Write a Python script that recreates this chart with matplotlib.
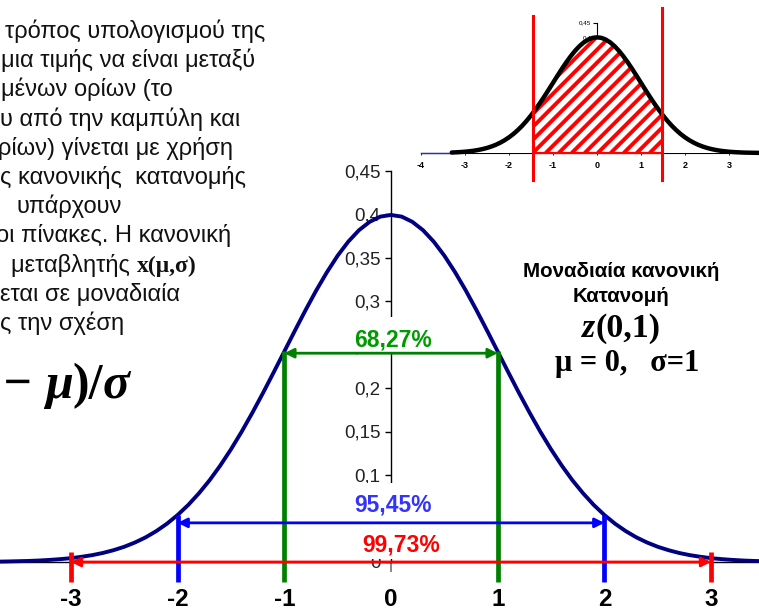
import numpy as np
import matplotlib
matplotlib.use("Agg")
import matplotlib.pyplot as plt
import matplotlib.transforms as mtransforms
from matplotlib.collections import LineCollection
from matplotlib.patches import Rectangle

plt.rcParams['font.family'] = ['Liberation Sans', 'DejaVu Sans']

# ---------------------------------------------------------------- data
# standard normal density z(0,1) on the positive half, read every 0.1
z_half = [0.0, 0.1, 0.2, 0.3, 0.4, 0.5, 0.6, 0.7, 0.8, 0.9, 1.0, 1.1, 1.2,
          1.3, 1.4, 1.5, 1.6, 1.7, 1.8, 1.9, 2.0, 2.1, 2.2, 2.3, 2.4, 2.5,
          2.6, 2.7, 2.8, 2.9, 3.0, 3.1, 3.2, 3.3, 3.4, 3.5, 3.6, 3.7, 3.8]
density_half = [0.3989, 0.3970, 0.3910, 0.3814, 0.3683, 0.3521, 0.3332,
                0.3123, 0.2897, 0.2661, 0.2420, 0.2179, 0.1942, 0.1714,
                0.1497, 0.1295, 0.1109, 0.0940, 0.0790, 0.0656, 0.0540,
                0.0440, 0.0355, 0.0283, 0.0224, 0.0175, 0.0136, 0.0104,
                0.0079, 0.0060, 0.0044, 0.0033, 0.0024, 0.0017, 0.0012,
                0.0009, 0.0006, 0.0004, 0.0003]
# the curve is symmetric about 0
z = [-v for v in z_half[:0:-1]] + z_half
density = density_half[:0:-1] + density_half

x_ticks = [-3, -2, -1, 0, 1, 2, 3]
x_tick_labels = ['-3', '-2', '-1', '0', '1', '2', '3']
y_ticks = [0, 0.05, 0.1, 0.15, 0.2, 0.25, 0.3, 0.35, 0.4, 0.45]
y_tick_labels = ['0', '0,05', '0,1', '0,15', '0,2', '0,25', '0,3', '0,35', '0,4', '0,45']

# ±kσ intervals
sigma_k = [1, 2, 3]
coverage_labels = ['68,27%', '95,45%', '99,73%']
arrow_levels = [0.240, 0.045, 0.0]
bar_tops = [0.242, 0.054, 0.0115]
label_x = [0.023, 0.023, 0.094]
label_y = [0.2552, 0.0655, 0.0195]
line_colors = ['#008000', '#0000ff', '#ff0000']
text_colors = ['#009900', '#3333ff', '#ff0000']
# white backing behind each label (left, top, right, bottom in pixels)
label_boxes = [(343, 317, 445, 354), (345, 483, 445, 526), (345, 526, 455, 559)]

# inset: shaded region between two bounds
inset_ticks = [-4, -3, -2, -1, 0, 1, 2, 3]
inset_bounds = [-1.45, 1.48]
inset_bound_tops = [0.472, 0.50]

paragraph = [
    'τρόπος υπολογισμού της',
    'μια τιμής να είναι μεταξύ',
    'μένων ορίων (το',
    'υ από την καμπύλη και',
    'ρίων) γίνεται με χρήση',
    'ς κανονικής  κατανομής',
    'υπάρχουν',
    'οι πίνακες. Η κανονική',
    'μεταβλητής ',
    'εται σε μοναδιαία',
    'ς την σχέση',
]

# ---------------------------------------------------------------- figure
W, H = 759, 613
DPI = 100
fig = plt.figure(figsize=(W / DPI, H / DPI), dpi=DPI)
fig.patch.set_facecolor('white')

# pixel coordinates measured from the top-left corner
TP = mtransforms.Affine2D().scale(1, -1).translate(0, H)


def px_axes(left, top, right, bottom):
    return fig.add_axes([left / W, 1 - bottom / H, (right - left) / W, (bottom - top) / H])


# main chart: zero at x=391, 106.7 px per unit; baseline at y=562, 870 px per unit
ax = px_axes(0, 0, W, H)
ax.set_xlim(-391 / 106.7, (W - 391) / 106.7)
ax.set_ylim(-(H - 562) / 870, 562 / 870)
ax.patch.set_visible(False)
for s in ('top', 'right'):
    ax.spines[s].set_visible(False)
ax.spines['bottom'].set_position(('data', 0))
ax.spines['left'].set_position(('data', 0))
ax.spines['left'].set_bounds(0, 0.45)
ax.spines['bottom'].set_linewidth(1.0)
ax.spines['left'].set_linewidth(1.0)

ax.set_xticks(x_ticks)
ax.set_xticklabels(x_tick_labels, fontsize=17.5, fontweight='bold')
ax.tick_params(axis='x', direction='out', length=7, width=1.4, color='#888888', pad=12)
ax.set_yticks(y_ticks)
ax.set_yticklabels(y_tick_labels, fontsize=13.5, color='#222222')
ax.tick_params(axis='y', direction='out', length=4.5, width=1.0, pad=3)

ax.plot(z, density, color='#000080', lw=2.8, solid_joinstyle='round',
        solid_capstyle='round', zorder=4)

bar_bottom = -0.023
for k, lvl, top, col in zip(sigma_k, arrow_levels, bar_tops, line_colors):
    for sgn in (-1, 1):
        ax.plot([sgn * k, sgn * k], [bar_bottom, top], color=col, lw=3.4,
                solid_capstyle='butt', zorder=5)
    ax.annotate('', xy=(k, lvl), xytext=(-k, lvl),
                arrowprops=dict(arrowstyle='<|-|>', color=col, lw=2.0,
                                mutation_scale=14, shrinkA=0, shrinkB=0),
                zorder=6)

for (l, t, r, b) in label_boxes:
    ax.add_patch(Rectangle((l, t), r - l, b - t, transform=TP, clip_on=False,
                           facecolor='white', edgecolor='none', zorder=5.4))
for txt, lx, ly, col in zip(coverage_labels, label_x, label_y, text_colors):
    ax.text(lx, ly, txt, color=col, fontsize=16.5, fontweight='bold',
            ha='center', va='center', zorder=5.5)

# ---------------------------------------------------------------- inset
ix = px_axes(415, 0, W, 180)
ix.set_xlim((415 - 597) / 44, (W - 597) / 44)
ix.set_ylim(-(180 - 153) / 290, 153 / 290)
ix.patch.set_visible(False)
for s in ('top', 'right'):
    ix.spines[s].set_visible(False)
ix.spines['bottom'].set_position(('data', 0))
ix.spines['left'].set_position(('data', 0))
ix.spines['left'].set_bounds(0, 0.45)
ix.spines['bottom'].set_bounds(-4, 3.65)
ix.spines['left'].set_linewidth(0.8)
ix.spines['bottom'].set_linewidth(0.8)
ix.set_xticks(inset_ticks)
ix.set_xticklabels([str(t) for t in inset_ticks], fontsize=6.5, fontweight='bold')
ix.tick_params(axis='x', direction='out', length=1.5, width=0.6, pad=4)
ix.set_yticks([0.4, 0.45])
ix.set_yticklabels(['0,4', '0,45'], fontsize=4.5)
ix.tick_params(axis='y', direction='out', length=3, width=0.8, pad=1)

z_arr = np.array(z)
d_arr = np.array(density)
keep = z_arr >= -3.3
ix.plot([-4, -3.3], [0, 0], color='#2030c0', lw=1.0, zorder=3.5)

region = ix.fill_between(z_arr[keep], 0, d_arr[keep], facecolor='white',
                         edgecolor='none', zorder=3)
clip_path = region.get_paths()[0]

# diagonal red hatching inside the bounds, 45 degrees on screen
sx, sy = 44.0, 290.0
lo, hi = inset_bounds
ymax = 0.45
segs = []
step = 13.0 / sx
c = lo - ymax * sy / sx
while c < hi:
    xa = max(lo, c)
    xb = min(hi, c + ymax * sy / sx)
    if xb > xa:
        segs.append([(xa, (xa - c) * sx / sy), (xb, (xb - c) * sx / sy)])
    c += step
hatch = LineCollection(segs, colors='#ff0000', linewidths=2.8, zorder=3.2,
                       capstyle='butt')
ix.add_collection(hatch)
hatch.set_clip_path(clip_path, ix.transData)

ix.plot([lo, hi], [0, 0], color='#ff0000', lw=1.6, zorder=3.3)
ix.plot(z_arr[keep], d_arr[keep], color='black', lw=3.2, solid_joinstyle='round',
        solid_capstyle='round', zorder=4)
for b, t in zip(inset_bounds, inset_bound_tops):
    ix.plot([b, b], [-(180 - 153) / 290, t], color='#ff0000', lw=2.2,
            clip_on=False, zorder=5)

# ---------------------------------------------------------------- texts
para_x = [5, 1, 1, 0, -2, 0, 17, -4, 11, 0, 0]
para_y = [38 + 29.2 * i for i in range(len(paragraph))]
renderer = fig.canvas.get_renderer()
for s, x, y in zip(paragraph, para_x, para_y):
    t = fig.text(x, y, s, transform=TP, fontsize=17, ha='left', va='baseline',
                 color='#111111')
    if s.startswith('μεταβλητής'):
        bb = t.get_window_extent(renderer)
        fig.text(bb.x1, y, 'x(μ,σ)', transform=TP, fontsize=17,
                 fontweight='bold', family='Liberation Serif',
                 ha='left', va='baseline', color='#111111')


def runs(x, y, parts, ha='center'):
    """Place a sequence of differently styled strings on one baseline."""
    arts = [fig.text(0, y, s, transform=TP, va='baseline', ha='left', **kw)
            for s, kw in parts]
    widths = [a.get_window_extent(renderer).width for a in arts]
    total = sum(widths)
    start = x - total / 2 if ha == 'center' else (x - total if ha == 'right' else x)
    for a, w in zip(arts, widths):
        a.set_x(start)
        start += w


serif_b = dict(family='Liberation Serif', fontweight='bold', color='black')
serif_bi = dict(family='Liberation Serif', fontweight='bold', style='italic', color='black')

# relation to the unit normal, right edge of the line
runs(130, 398, [('z = (', dict(serif_b, fontsize=36)),
                ('x', dict(serif_bi, fontsize=36)),
                (' − ', dict(serif_b, fontsize=36)),
                ('μ', dict(serif_bi, fontsize=36)),
                (')/', dict(serif_b, fontsize=36)),
                ('σ', dict(serif_bi, fontsize=36))], ha='right')

fig.text(621, 277, 'Μοναδιαία κανονική', transform=TP, fontsize=14.8,
         fontweight='bold', ha='center', va='baseline')
fig.text(621, 302, 'Κατανομή', transform=TP, fontsize=14.8,
         fontweight='bold', ha='center', va='baseline')
runs(621, 337, [('z', dict(serif_bi, fontsize=24.5)),
                ('(0,1)', dict(serif_b, fontsize=24.5))])
fig.text(627, 371, 'μ = 0,   σ=1', transform=TP, fontsize=22,
         ha='center', va='baseline', **serif_b)

fig.savefig('out.png', dpi=DPI, facecolor='white')
